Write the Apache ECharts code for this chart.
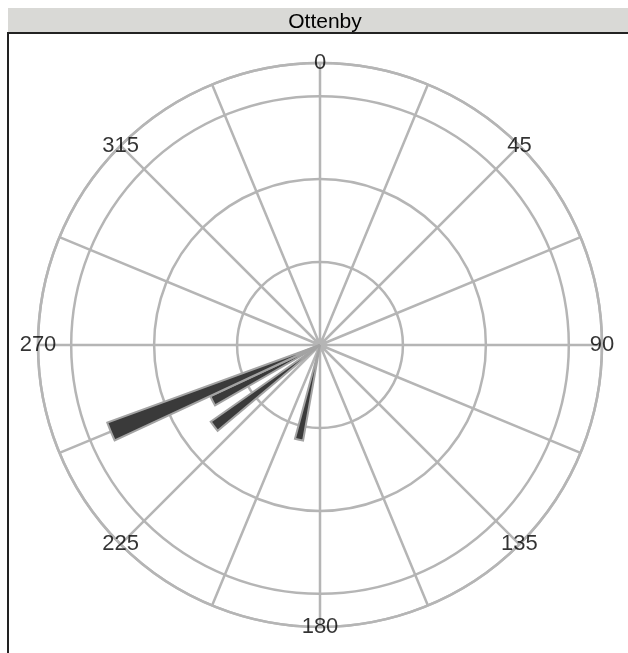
<!DOCTYPE html>
<html>
<head>
<meta charset="utf-8">
<script src="https://cdn.jsdelivr.net/npm/echarts@6/dist/echarts.min.js"></script>
<style>
html,body{margin:0;padding:0;background:#fff;}
#chart{width:628px;height:653px;}
</style>
</head>
<body>
<div id="chart"></div>
<script>
// Panel title
const panelTitle = 'Ottenby';
// Direction bins (5 degree bins, start angle of each bin)
const binStarts = [];
for (let a = 0; a < 360; a += 5) binStarts.push(a);
// Observed sectors: bin start angle -> radial value
const sectorBins = [245, 240, 230, 190];
const sectorValues = [27.3, 14.6, 16.1, 11.7];
// Angle tick labels
const angleTicks = [0, 45, 90, 135, 180, 225, 270, 315];
const angleTickLabels = ['0', '45', '90', '135', '180', '225', '270', '315'];
const radiusMax = 34;

const barData = binStarts.map(function (b) {
  const i = sectorBins.indexOf(b);
  return i >= 0 ? sectorValues[i] : 0;
});

const chart = echarts.init(document.getElementById('chart'));
const grey = '#b5b5b5';
const cx = 320, cy = 345, R = 282;

chart.setOption({
  animation: false,
  backgroundColor: '#fff',
  title: {
    text: panelTitle,
    left: 320,
    top: 7,
    textAlign: 'center',
    textStyle: { fontFamily: 'Liberation Sans, Arial, sans-serif', fontSize: 21, fontWeight: 'normal', color: '#000' }
  },
  graphic: [
    { type: 'rect', z: -10, shape: { x: 8, y: 8, width: 700, height: 25 }, style: { fill: '#d9d9d6' } },
    { type: 'rect', z: -10, shape: { x: 8, y: 33, width: 700, height: 700 }, style: { fill: '#fff', stroke: '#222', lineWidth: 2 } }
  ],
  polar: [
    { center: [cx, cy], radius: R },
    { center: [cx, cy], radius: R }
  ],
  angleAxis: [
    {
      polarIndex: 0, type: 'value', min: 0, max: 360, interval: 22.5,
      startAngle: 90, clockwise: true,
      axisLine: { show: true, lineStyle: { color: grey, width: 2.5 } },
      axisTick: { show: false },
      axisLabel: { show: false },
      splitLine: { show: true, lineStyle: { color: grey, width: 2.5 } }
    },
    {
      polarIndex: 1, type: 'category', data: binStarts,
      startAngle: 90, clockwise: true, boundaryGap: true,
      axisLine: { show: false }, axisTick: { show: false },
      axisLabel: { show: false }, splitLine: { show: false }
    }
  ],
  radiusAxis: [
    {
      polarIndex: 0, type: 'value', min: 0, max: radiusMax, interval: 10,
      axisLine: { show: false }, axisTick: { show: false }, axisLabel: { show: false },
      splitLine: { show: true, lineStyle: { color: grey, width: 2.5 } }
    },
    {
      polarIndex: 1, type: 'value', min: 0, max: radiusMax,
      axisLine: { show: false }, axisTick: { show: false }, axisLabel: { show: false },
      splitLine: { show: false }
    }
  ],
  series: [
    {
      type: 'bar', coordinateSystem: 'polar', polarIndex: 1,
      data: barData, barCategoryGap: '2%',
      itemStyle: { color: '#3a3a3a', borderColor: '#a3a3a3', borderWidth: 2 },
      z: 5
    },
    {
      type: 'scatter', coordinateSystem: 'polar', polarIndex: 0,
      symbolSize: 1, itemStyle: { color: 'rgba(0,0,0,0)' },
      data: angleTicks.map(function (a) { return [radiusMax, a]; }),
      label: {
        show: true, position: 'inside',
        fontFamily: 'Liberation Sans, Arial, sans-serif', fontSize: 22, color: '#000',
        formatter: function (p) { return angleTickLabels[p.dataIndex]; }
      },
      z: 10
    }
  ]
});
</script>
</body>
</html>
